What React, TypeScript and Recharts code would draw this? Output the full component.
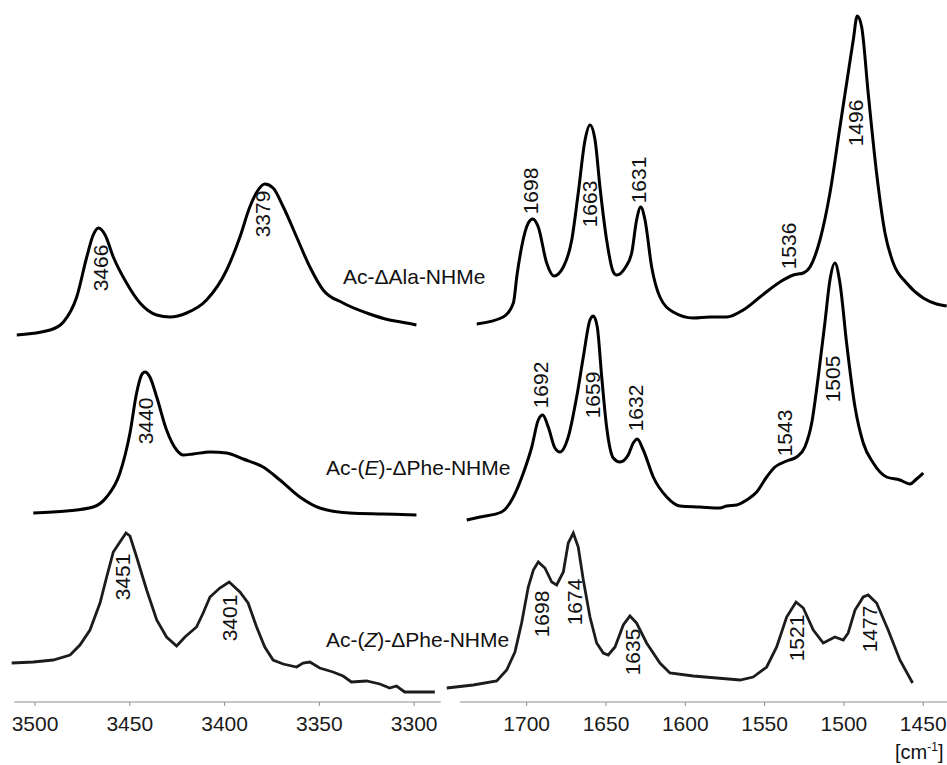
import { LineChart, Line, XAxis, YAxis, ReferenceLine, ReferenceDot } from 'recharts'

// IR spectra, stacked with offsets (arbitrary absorbance units), x in cm-1
// NH stretch region
const nhAla = [
  [3509.6, 367], [3492, 372], [3485, 380], [3478, 405], [3472.7, 445], [3469.3, 467],
  [3466.5, 474], [3463, 467], [3458.7, 445], [3451.7, 419], [3444.6, 399], [3435.8, 387],
  [3428.8, 385], [3420, 389], [3409.5, 402], [3398.9, 432], [3391.9, 465], [3386.7, 495],
  [3382.3, 512], [3378.8, 518], [3374.4, 514], [3369, 495], [3362, 465], [3355, 435],
  [3348, 412], [3337.5, 399], [3325, 389], [3313, 382], [3304, 379], [3298.8, 377],
]
const nhPheE = [
  [3500.9, 189], [3483.3, 191], [3469.3, 195], [3462.2, 205], [3455.2, 229], [3449.9, 269],
  [3446.4, 309], [3443.8, 327], [3442, 330], [3439.4, 325], [3435.8, 305], [3430.6, 272],
  [3425.3, 252], [3421.8, 247], [3416.6, 248], [3407.7, 250], [3398.9, 249], [3390.2, 243],
  [3379.7, 235], [3370.8, 222], [3360.3, 205], [3349.8, 194], [3334, 189], [3316.4, 188],
  [3298.8, 187],
]
const nhPheZ = [
  [3512.3, 39], [3500.9, 40], [3490.4, 42], [3481.5, 47], [3476.3, 57], [3471, 72],
  [3465.7, 99], [3462.2, 125], [3458.7, 150], [3455.2, 160], [3452, 169], [3449.9, 166],
  [3446.4, 145], [3441.1, 112], [3435.8, 82], [3430.6, 65], [3425.3, 56], [3420.9, 65],
  [3414.8, 75], [3411.3, 89], [3407.7, 105], [3402.5, 114], [3397.6, 120], [3391.9, 110],
  [3387.6, 99], [3383.1, 75], [3378.8, 55], [3374.4, 42], [3369.1, 38], [3362, 35],
  [3358.6, 39], [3355, 40], [3349.8, 34], [3342.8, 30], [3337.5, 26], [3333.1, 20],
  [3325.1, 21], [3318.1, 18], [3312.9, 14], [3309.3, 16], [3305, 10], [3289.1, 10],
]

// amide / C=C region
const coAla = [
  [1731.5, 378], [1714.8, 385], [1708.4, 399], [1706.1, 427], [1703.2, 455], [1699, 479],
  [1696.2, 483], [1692.7, 475], [1687.4, 439], [1682.8, 426], [1676.9, 435], [1671.6, 462],
  [1667.5, 509], [1663.2, 562], [1660.1, 577], [1656.9, 562], [1653.8, 515], [1649.6, 462],
  [1645.4, 430], [1643.3, 427], [1638, 434], [1633.8, 449], [1630.7, 482], [1628.1, 495],
  [1625.4, 482], [1621.2, 435], [1616, 405], [1607.6, 390], [1595, 384], [1584.5, 385],
  [1573.9, 385], [1563.5, 392], [1552.9, 405], [1540.3, 420], [1531.9, 427], [1525.6, 429],
  [1521.4, 435], [1515.1, 462], [1508.8, 509], [1502.5, 575], [1497.3, 629], [1494.1, 662],
  [1491.6, 686], [1488.8, 675], [1484.7, 609], [1479.4, 529], [1474.1, 469], [1468.9, 439],
  [1460.5, 419], [1450, 404], [1441.6, 398], [1435.2, 396],
]
const coPheE = [
  [1737.8, 182], [1729.4, 185], [1715.8, 190], [1708.4, 205], [1702.1, 229], [1696.8, 255],
  [1692.7, 282], [1689.9, 287], [1686.4, 275], [1682.2, 254], [1679, 250], [1673.8, 265],
  [1668.5, 305], [1664.3, 345], [1660.1, 382], [1658, 386], [1655.5, 375], [1652.7, 325],
  [1649.6, 275], [1645.4, 244], [1641.2, 240], [1636, 247], [1632.8, 259], [1630.3, 263],
  [1626.5, 252], [1620.2, 225], [1611.7, 205], [1603.4, 196], [1590.8, 195], [1578.2, 194],
  [1573.9, 196], [1567.6, 197], [1561.3, 202], [1555, 210], [1548.7, 225],
  [1543.5, 235], [1536.1, 241], [1529.8, 245], [1524.6, 255], [1520.3, 279], [1516.2, 325],
  [1512, 379], [1508.8, 422], [1505.7, 439], [1502.5, 419], [1498.3, 359], [1493, 295],
  [1487.8, 259], [1481.5, 239], [1473.1, 225], [1464.7, 222], [1458.4, 218], [1454.2, 223],
  [1450, 229],
]
const coPheZ = [
  [1750.4, 14], [1733.7, 17], [1718.9, 21], [1712.6, 32], [1707.4, 50], [1703.2, 79],
  [1699, 115], [1695.8, 132], [1692.7, 140], [1688.5, 134], [1684.2, 120], [1681.1, 117],
  [1676.9, 130], [1673.8, 159], [1670.6, 169], [1667.5, 155], [1664.3, 122], [1660.1, 85],
  [1655.9, 59], [1651.7, 49], [1648.6, 47], [1644.3, 55], [1639.1, 77], [1634.9, 86],
  [1630.7, 79], [1624.4, 59], [1616, 39], [1609.7, 29], [1595, 26], [1580.2, 24],
  [1565.5, 22], [1557.2, 25], [1548.7, 35], [1542.4, 55], [1536.1, 85], [1530.2, 100],
  [1525.6, 94], [1519.3, 72], [1513, 59], [1505.7, 65], [1500.4, 62], [1497.3, 69],
  [1493, 92], [1487.8, 105], [1484.7, 107], [1479.4, 99], [1472.1, 72], [1464.7, 42],
  [1456.7, 19],
]

// peak labels: [x, y, text]
const nhAlaPeaks = [[3465.7, 434, '3466'], [3380.1, 488, '3379']]
const nhPheEPeaks = [[3441.5, 281, '3440']]
const nhPheZPeaks = [[3454.1, 125, '3451'], [3397.2, 84, '3401']]
const coAlaPeaks = [
  [1697.9, 511, '1698'], [1660.1, 498, '1663'], [1629.2, 522, '1631'],
  [1534.7, 456, '1536'], [1492.4, 579, '1496'],
]
const coPheEPeaks = [
  [1691, 317, '1692'], [1658.5, 307, '1659'], [1631.1, 294, '1632'],
  [1537.2, 269, '1543'], [1506.9, 323, '1505'],
]
const coPheZPeaks = [
  [1690.4, 88, '1698'], [1669.6, 100, '1674'], [1633.6, 50, '1635'],
  [1529.6, 64, '1521'], [1483.6, 73, '1477'],
]

const nhTicks = [3500, 3450, 3400, 3350, 3300]
const coTicks = [1700, 1650, 1600, 1550, 1500, 1450]

const compounds = [
  { name: <>Ac-ΔAla-NHMe</>, left: 343, top: 277 },
  { name: <>Ac-(<i>E</i>)-ΔPhe-NHMe</>, left: 326, top: 468 },
  { name: <>Ac-(<i>Z</i>)-ΔPhe-NHMe</>, left: 326, top: 640 },
]

const FONT = '"Liberation Sans", Arial, Helvetica, sans-serif'
const AXIS = '#8c8c8c'

const rows = (pts: any[]) => pts.map(([x, y]) => ({ x, y }))

function PeakText(props: any) {
  const { cx, cy, text } = props
  if (cx == null || cy == null) return null
  return (
    <text
      x={cx}
      y={cy}
      transform={`rotate(-90 ${cx} ${cy})`}
      textAnchor="middle"
      dominantBaseline="central"
      fontSize={21}
      fontFamily={FONT}
      fill="#111"
    >
      {text}
    </text>
  )
}

function peakDots(list: any[], key: string) {
  return list.map(([x, y, t], i) => (
    <ReferenceDot
      key={key + i}
      x={x}
      y={y}
      r={0}
      shape={(p: any) => <PeakText {...p} text={t} />}
    />
  ))
}

const tickStyle = { fontSize: 21, fill: '#1a1a1a', fontFamily: FONT }

export default function App() {
  return (
    <div
      style={{
        position: 'absolute',
        left: 0,
        top: 0,
        width: 947,
        height: 765,
        overflow: 'hidden',
        background: '#fff',
        fontFamily: FONT,
      }}
    >
      {/* NH region */}
      <div style={{ position: 'absolute', left: 0, top: 0 }}>
        <LineChart width={450} height={765} margin={{ top: 0, right: 9.3, left: 11.3, bottom: 0 }}>
          <XAxis
            dataKey="x"
            type="number"
            domain={[3286, 3512.5]}
            reversed
            ticks={nhTicks}
            height={63}
            axisLine={false}
            tickLine={{ stroke: AXIS }}
            tickSize={4}
            tickMargin={10}
            tick={tickStyle}
          />
          <YAxis hide type="number" domain={[0, 702]} />
          <ReferenceLine segment={[{ x: 3510.9, y: 0 }, { x: 3286, y: 0 }]} stroke={AXIS} strokeWidth={1.2} />
          <Line data={rows(nhAla)} dataKey="y" type="monotone" stroke="#000" strokeWidth={3} dot={false} activeDot={false} isAnimationActive={false} />
          <Line data={rows(nhPheE)} dataKey="y" type="monotone" stroke="#000" strokeWidth={3} dot={false} activeDot={false} isAnimationActive={false} />
          <Line data={rows(nhPheZ)} dataKey="y" type="linear" stroke="#1c1c1c" strokeWidth={2.8} dot={false} activeDot={false} isAnimationActive={false} />
          {peakDots(nhAlaPeaks, 'a')}
          {peakDots(nhPheEPeaks, 'e')}
          {peakDots(nhPheZPeaks, 'z')}
        </LineChart>
      </div>

      {/* amide region */}
      <div style={{ position: 'absolute', left: 440, top: 0 }}>
        <LineChart width={507} height={765} margin={{ top: 0, right: 0, left: 5.8, bottom: 0 }}>
          <XAxis
            dataKey="x"
            type="number"
            domain={[1435, 1751]}
            reversed
            ticks={coTicks}
            height={63}
            axisLine={false}
            tickLine={{ stroke: AXIS }}
            tickSize={4}
            tickMargin={10}
            tick={tickStyle}
          />
          <YAxis hide type="number" domain={[0, 702]} />
          <ReferenceLine segment={[{ x: 1742, y: 0 }, { x: 1435, y: 0 }]} stroke={AXIS} strokeWidth={1.2} />
          <Line data={rows(coAla)} dataKey="y" type="monotone" stroke="#000" strokeWidth={3} dot={false} activeDot={false} isAnimationActive={false} />
          <Line data={rows(coPheE)} dataKey="y" type="monotone" stroke="#000" strokeWidth={3} dot={false} activeDot={false} isAnimationActive={false} />
          <Line data={rows(coPheZ)} dataKey="y" type="linear" stroke="#1c1c1c" strokeWidth={2.8} dot={false} activeDot={false} isAnimationActive={false} />
          {peakDots(coAlaPeaks, 'A')}
          {peakDots(coPheEPeaks, 'E')}
          {peakDots(coPheZPeaks, 'Z')}
        </LineChart>
      </div>

      {compounds.map((c, i) => (
        <div
          key={i}
          style={{
            position: 'absolute',
            left: c.left,
            top: c.top,
            transform: 'translateY(-50%)',
            fontSize: 21,
            lineHeight: '24px',
            color: '#111',
            whiteSpace: 'nowrap',
          }}
        >
          {c.name}
        </div>
      ))}

      <div
        style={{
          position: 'absolute',
          left: 895,
          top: 741,
          fontSize: 20,
          lineHeight: '22px',
          color: '#111',
          whiteSpace: 'nowrap',
        }}
      >
        [cm<sup style={{ fontSize: 12, lineHeight: 0 }}>-1</sup>]
      </div>
    </div>
  )
}
